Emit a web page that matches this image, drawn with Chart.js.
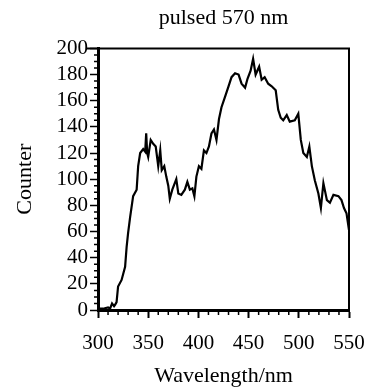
<!DOCTYPE html>
<html>
<head>
<meta charset="utf-8">
<script src="https://cdn.jsdelivr.net/npm/chart.js@4.4.1/dist/chart.umd.min.js"></script>
<style>
    body { margin: 0; background: #fff; }
    #wrap { width: 379px; height: 387px; }
</style>
</head>
<body>
<div id="wrap"><canvas id="spec" width="379" height="387"></canvas></div>
<script>
// Data
const wavelengths = [300, 305, 310, 312, 314, 316, 317, 318.5, 320, 323.5, 327, 328.5, 330, 332, 335, 338.5,
    340, 342, 345, 347, 348, 349, 350, 352.5, 355, 357.5, 360, 362, 363.5, 366, 368, 370, 371.5, 374,
    378, 380, 383, 386.5, 389, 391.5, 394, 396, 398, 400.5, 403, 405.5, 408, 410.5, 413, 415.5, 418,
    420.5, 423, 426.5, 430, 433, 436.5, 440, 443, 446.5, 449, 452, 454.5, 457, 460.5, 463, 466, 469.5,
    473, 477, 479.5, 482, 484.5, 488, 491, 496, 499.5, 502, 504.5, 508, 510.5, 513, 516, 519.5, 522,
    524.5, 528, 531, 534.5, 539.5, 542.5, 545, 547.5, 550];
const counts = [1, 1, 2, 1, 5, 3, 4, 6, 18, 23, 33, 48, 59, 71, 87, 92,
    110, 120, 123, 121, 135, 120, 117, 130, 127, 125, 110, 122, 107, 110, 102, 95, 85, 92,
    100, 89, 88, 92, 98, 92, 93, 87, 102, 110, 108, 122, 120, 125, 135, 138, 130,
    146, 155, 163, 171, 178, 181, 180, 173, 170, 177, 183, 192, 180, 186, 176, 178, 173,
    171, 168, 153, 147, 145, 149, 144, 145, 150, 130, 120, 117, 125, 110, 99, 89, 78,
    97, 84, 82, 88, 87, 84, 78, 74, 61];

const xTicks = [300, 350, 400, 450, 500, 550];
const yTicks = [0, 20, 40, 60, 80, 100, 120, 140, 160, 180, 200];

const serif = "'Liberation Serif', 'Times New Roman', serif";
Chart.defaults.font.family = serif;
Chart.defaults.color = '#000';

// frame + minor ticks
const framePlugin = {
    id: 'frame',
    afterDraw(chart) {
        const { ctx, chartArea: a, scales: { x, y } } = chart;
        ctx.save();
        ctx.strokeStyle = '#000';
        ctx.lineWidth = 2;
        ctx.beginPath();
        ctx.moveTo(a.left - 12, a.top);
        ctx.lineTo(a.right, a.top);
        ctx.lineTo(a.right, a.bottom);
        ctx.stroke();

        ctx.lineWidth = 1.5;
        ctx.beginPath();
        for (let v = 300; v <= 550; v += 10) {
            if (v % 50 === 0) continue;
            const px = x.getPixelForValue(v);
            ctx.moveTo(px, a.bottom);
            ctx.lineTo(px, a.bottom + 5);
        }
        for (let v = 0; v <= 200; v += 5) {
            if (v % 20 === 0) continue;
            const py = y.getPixelForValue(v);
            ctx.moveTo(a.left, py);
            ctx.lineTo(a.left - 4, py);
        }
        ctx.stroke();
        ctx.restore();
    }
};

new Chart(document.getElementById('spec'), {
    type: 'line',
    data: {
        datasets: [{
            data: wavelengths.map((w, i) => ({ x: w, y: counts[i] })),
            borderColor: '#000',
            borderWidth: 2.2,
            pointRadius: 0,
            tension: 0,
            fill: false
        }]
    },
    options: {
        responsive: false,
        animation: false,
        layout: { padding: { left: 0, right: 30, top: 0, bottom: 0 } },
        plugins: {
            legend: { display: false },
            tooltip: { enabled: false },
            title: {
                display: true,
                fullSize: false,
                text: 'pulsed 570 nm',
                font: { size: 22, weight: 'normal', lineHeight: 1.2 },
                color: '#000',
                padding: { top: 5, bottom: 17 }
            }
        },
        scales: {
            x: {
                type: 'linear',
                min: 300, max: 550,
                afterBuildTicks: s => { s.ticks = xTicks.map(v => ({ value: v })); },
                afterFit: s => { s.height = 77; },
                ticks: { font: { size: 21 }, color: '#000', padding: 13, maxRotation: 0, autoSkip: false },
                grid: { drawOnChartArea: false, tickLength: 8, tickWidth: 2, tickColor: '#000' },
                border: { color: '#000', width: 3 },
                title: { display: true, text: 'Wavelength/nm', font: { size: 22, lineHeight: 1 }, color: '#000', padding: { top: 0, bottom: 0 } }
            },
            y: {
                min: 0, max: 200,
                afterBuildTicks: s => { s.ticks = yTicks.map(v => ({ value: v })); },
                afterFit: s => { s.width = 98; },
                ticks: { font: { size: 21 }, color: '#000', padding: 2, autoSkip: false },
                grid: { drawOnChartArea: false, tickLength: 8, tickWidth: 1.5, tickColor: '#000' },
                border: { color: '#000', width: 3 },
                title: { display: true, text: 'Counter', font: { size: 22 }, color: '#000', padding: { top: 12, bottom: 0 } }
            }
        }
    },
    plugins: [framePlugin]
});
</script>
</body>
</html>
